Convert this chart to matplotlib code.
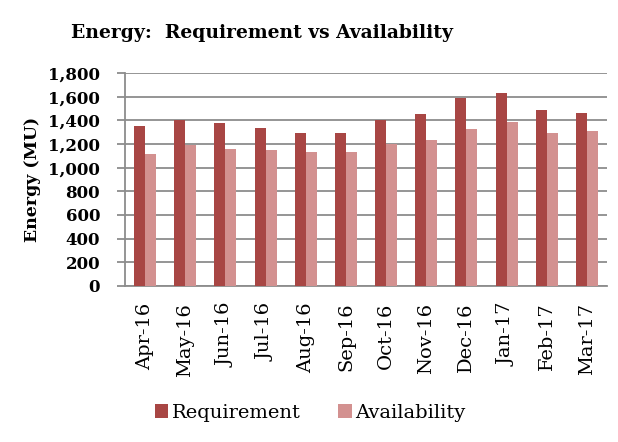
import matplotlib
matplotlib.use("Agg")
import matplotlib.pyplot as plt
import numpy as np
from matplotlib.ticker import FuncFormatter, MultipleLocator

months = ["Apr-16", "May-16", "Jun-16", "Jul-16", "Aug-16", "Sep-16",
          "Oct-16", "Nov-16", "Dec-16", "Jan-17", "Feb-17", "Mar-17"]
requirement = [1350, 1400, 1380, 1333, 1292, 1290, 1400, 1450, 1590, 1628, 1490, 1462]
availability = [1115, 1190, 1160, 1150, 1135, 1133, 1196, 1230, 1330, 1385, 1292, 1312]

plt.rcParams['font.family'] = ['DejaVu Serif']

req_color = "#A84644"
avl_color = "#D39190"

fig = plt.figure(figsize=(6.18, 4.42), dpi=100)
ax = fig.add_axes([0.2023, 0.353, 0.7799, 0.482])

x = np.arange(len(months))
w = 0.275
ax.bar(x - w / 2, requirement, width=w, color=req_color, label="Requirement", zorder=3)
ax.bar(x + w / 2, availability, width=w, color=avl_color, label="Availability", zorder=3)

ax.set_xlim(-0.5, len(months) - 0.5)
ax.set_ylim(0, 1800)
ax.yaxis.set_major_locator(MultipleLocator(200))
ax.yaxis.set_major_formatter(FuncFormatter(lambda v, p: f"{int(v):,}"))
ax.grid(axis="y", color="#8C8C8C", linewidth=1.3, zorder=0)

for s in ["top", "right"]:
    ax.spines[s].set_visible(False)
ax.spines["left"].set_color("#8C8C8C")
ax.spines["left"].set_linewidth(1.3)
ax.spines["bottom"].set_color("#8C8C8C")
ax.spines["bottom"].set_linewidth(1.3)

ax.tick_params(axis="y", length=6, width=1.3, color="#8C8C8C", pad=12, labelsize=12)
for lab in ax.get_yticklabels():
    lab.set_fontweight("bold")
ax.set_xticks(x)
ax.set_xticklabels(months, rotation=90, fontsize=14)
ax.tick_params(axis="x", length=0, pad=12)

ax.set_ylabel("Energy (MU)", fontsize=12.5, fontweight="bold", labelpad=5)

fig.text(0.424, 0.926, "Energy:  Requirement vs Availability", ha="center", va="center",
         fontsize=13.5, fontweight="bold")

leg = fig.legend(loc="center", bbox_to_anchor=(0.502, 0.066), ncol=2, frameon=False,
                 fontsize=14, handlelength=0.7, handleheight=0.7, handletextpad=0.2,
                 columnspacing=1.9)

fig.savefig("out.png", dpi=100)
